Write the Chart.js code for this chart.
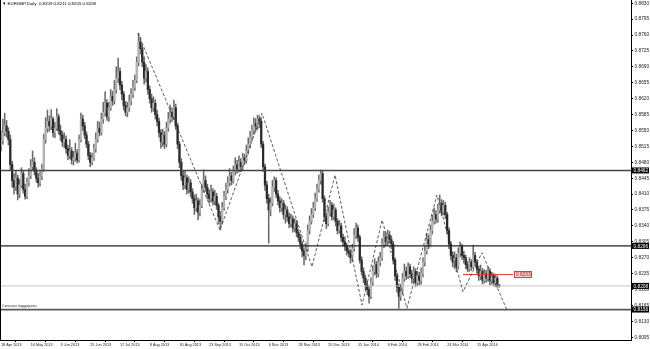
<!DOCTYPE html>
<html>
<head>
<meta charset="utf-8">
<title>EURGBP,Daily</title>
<script src="https://cdn.jsdelivr.net/npm/chart.js@4.4.1/dist/chart.umd.min.js"></script>
<style>
  html, body { margin: 0; padding: 0; background: #fff; }
  canvas { display: block; }
</style>
</head>
<body>
<canvas id="chart" width="650" height="349"></canvas>
<script>
// EURGBP daily candles, 18 Apr 2013 .. early May 2014
const opens = [
  0.8515,0.8528,0.8545,0.8560,0.8548,0.8530,0.8475,0.8440,0.8425,0.8445,
  0.8410,0.8430,0.8455,0.8420,0.8405,0.8435,0.8450,0.8470,0.8480,0.8460,
  0.8445,0.8435,0.8450,0.8465,0.8530,0.8555,0.8570,0.8560,0.8575,0.8545,
  0.8555,0.8580,0.8550,0.8540,0.8525,0.8530,0.8510,0.8495,0.8505,0.8485,
  0.8490,0.8500,0.8485,0.8530,0.8575,0.8560,0.8540,0.8520,0.8495,0.8480,
  0.8490,0.8510,0.8530,0.8555,0.8545,0.8575,0.8590,0.8610,0.8580,0.8600,
  0.8625,0.8615,0.8640,0.8665,0.8680,0.8650,0.8630,0.8605,0.8590,0.8600,
  0.8615,0.8630,0.8645,0.8660,0.8700,0.8745,0.8730,0.8700,0.8665,0.8680,
  0.8640,0.8620,0.8600,0.8610,0.8585,0.8570,0.8545,0.8525,0.8540,0.8520,
  0.8555,0.8575,0.8590,0.8580,0.8600,0.8560,0.8520,0.8480,0.8450,0.8430,
  0.8445,0.8420,0.8435,0.8415,0.8400,0.8380,0.8395,0.8370,0.8385,0.8420,
  0.8440,0.8425,0.8410,0.8400,0.8415,0.8395,0.8405,0.8385,0.8360,0.8350,
  0.8380,0.8405,0.8420,0.8435,0.8450,0.8440,0.8460,0.8475,0.8465,0.8480,
  0.8470,0.8490,0.8485,0.8505,0.8520,0.8535,0.8550,0.8565,0.8560,0.8575,
  0.8570,0.8520,0.8470,0.8430,0.8400,0.8375,0.8390,0.8425,0.8440,0.8410,
  0.8395,0.8380,0.8390,0.8365,0.8375,0.8360,0.8345,0.8355,0.8335,0.8345,
  0.8325,0.8315,0.8300,0.8285,0.8275,0.8290,0.8330,0.8350,0.8365,0.8380,
  0.8400,0.8420,0.8440,0.8455,0.8400,0.8360,0.8345,0.8370,0.8385,0.8360,
  0.8375,0.8350,0.8330,0.8340,0.8315,0.8305,0.8295,0.8285,0.8280,0.8270,
  0.8290,0.8320,0.8335,0.8315,0.8265,0.8240,0.8225,0.8210,0.8200,0.8185,
  0.8215,0.8240,0.8255,0.8235,0.8260,0.8270,0.8300,0.8315,0.8305,0.8320,
  0.8310,0.8300,0.8265,0.8230,0.8205,0.8185,0.8195,0.8225,0.8240,0.8230,
  0.8250,0.8235,0.8225,0.8240,0.8215,0.8230,0.8220,0.8235,0.8260,0.8285,
  0.8310,0.8300,0.8330,0.8350,0.8365,0.8355,0.8375,0.8390,0.8370,0.8385,
  0.8365,0.8330,0.8300,0.8275,0.8260,0.8270,0.8250,0.8280,0.8295,0.8275,
  0.8270,0.8255,0.8245,0.8260,0.8250,0.8275,0.8260,0.8245,0.8230,0.8240,
  0.8220,0.8235,0.8225,0.8240,0.8220,0.8230,0.8215,0.8225,0.8209
];
const highs = [
  0.8548,0.8575,0.8588,0.8572,0.8556,0.8540,0.8482,0.8455,0.8462,0.8452,
  0.8442,0.8468,0.8460,0.8432,0.8446,0.8466,0.8486,0.8505,0.8490,0.8468,
  0.8455,0.8460,0.8476,0.8542,0.8578,0.8595,0.8582,0.8596,0.8580,0.8568,
  0.8598,0.8586,0.8562,0.8548,0.8545,0.8538,0.8518,0.8530,0.8512,0.8504,
  0.8522,0.8508,0.8540,0.8588,0.8584,0.8568,0.8547,0.8526,0.8502,0.8500,
  0.8520,0.8545,0.8570,0.8568,0.8588,0.8612,0.8635,0.8618,0.8612,0.8640,
  0.8636,0.8660,0.8690,0.8709,0.8688,0.8658,0.8636,0.8614,0.8612,0.8628,
  0.8642,0.8660,0.8672,0.8712,0.8764,0.8755,0.8738,0.8712,0.8695,0.8688,
  0.8648,0.8630,0.8624,0.8618,0.8594,0.8577,0.8552,0.8553,0.8548,0.8568,
  0.8590,0.8606,0.8600,0.8617,0.8608,0.8566,0.8526,0.8488,0.8460,0.8460,
  0.8452,0.8448,0.8442,0.8422,0.8408,0.8410,0.8402,0.8398,0.8432,0.8463,
  0.8450,0.8432,0.8420,0.8430,0.8422,0.8418,0.8412,0.8390,0.8372,0.8392,
  0.8416,0.8434,0.8448,0.8466,0.8458,0.8472,0.8490,0.8484,0.8494,0.8488,
  0.8500,0.8498,0.8518,0.8534,0.8548,0.8562,0.8578,0.8576,0.8584,0.8582,
  0.8578,0.8526,0.8476,0.8438,0.8410,0.8402,0.8440,0.8448,0.8446,0.8418,
  0.8404,0.8400,0.8396,0.8386,0.8382,0.8368,0.8366,0.8362,0.8356,0.8352,
  0.8332,0.8322,0.8306,0.8292,0.8302,0.8342,0.8362,0.8378,0.8392,0.8412,
  0.8432,0.8452,0.8463,0.8460,0.8406,0.8368,0.8382,0.8396,0.8392,0.8388,
  0.8380,0.8356,0.8352,0.8346,0.8322,0.8316,0.8302,0.8292,0.8288,0.8300,
  0.8334,0.8346,0.8342,0.8320,0.8272,0.8248,0.8232,0.8218,0.8208,0.8226,
  0.8252,0.8268,0.8262,0.8272,0.8282,0.8312,0.8328,0.8324,0.8331,0.8328,
  0.8318,0.8306,0.8270,0.8236,0.8212,0.8208,0.8236,0.8256,0.8250,0.8259,
  0.8256,0.8242,0.8250,0.8246,0.8240,0.8238,0.8248,0.8270,0.8296,0.8324,
  0.8320,0.8342,0.8364,0.8380,0.8374,0.8388,0.8408,0.8398,0.8396,0.8392,
  0.8370,0.8336,0.8306,0.8282,0.8283,0.8278,0.8292,0.8305,0.8300,0.8284,
  0.8276,0.8262,0.8270,0.8266,0.8298,0.8282,0.8266,0.8252,0.8254,0.8246,
  0.8244,0.8242,0.8250,0.8246,0.8238,0.8236,0.8232,0.8230,0.8211
];
const lows = [
  0.8505,0.8520,0.8538,0.8535,0.8518,0.8462,0.8425,0.8410,0.8418,0.8397,
  0.8402,0.8424,0.8412,0.8399,0.8400,0.8428,0.8444,0.8462,0.8452,0.8436,
  0.8425,0.8428,0.8442,0.8460,0.8522,0.8546,0.8548,0.8552,0.8536,0.8534,
  0.8550,0.8542,0.8528,0.8515,0.8512,0.8500,0.8486,0.8488,0.8476,0.8474,
  0.8482,0.8478,0.8480,0.8525,0.8550,0.8532,0.8512,0.8486,0.8470,0.8474,
  0.8484,0.8502,0.8524,0.8538,0.8540,0.8566,0.8582,0.8572,0.8570,0.8594,
  0.8605,0.8608,0.8632,0.8655,0.8640,0.8618,0.8595,0.8582,0.8580,0.8592,
  0.8606,0.8622,0.8638,0.8655,0.8692,0.8718,0.8690,0.8652,0.8656,0.8630,
  0.8610,0.8590,0.8592,0.8575,0.8560,0.8535,0.8511,0.8515,0.8510,0.8514,
  0.8548,0.8566,0.8570,0.8574,0.8552,0.8510,0.8468,0.8440,0.8420,0.8422,
  0.8410,0.8412,0.8404,0.8390,0.8365,0.8372,0.8353,0.8362,0.8380,0.8414,
  0.8416,0.8400,0.8390,0.8392,0.8386,0.8386,0.8376,0.8345,0.8331,0.8344,
  0.8374,0.8398,0.8412,0.8428,0.8430,0.8434,0.8452,0.8456,0.8458,0.8460,
  0.8464,0.8475,0.8478,0.8498,0.8512,0.8528,0.8542,0.8548,0.8552,0.8556,
  0.8512,0.8460,0.8418,0.8390,0.8302,0.8362,0.8384,0.8416,0.8402,0.8386,
  0.8370,0.8372,0.8355,0.8346,0.8350,0.8336,0.8338,0.8326,0.8328,0.8316,
  0.8306,0.8290,0.8272,0.8254,0.8266,0.8284,0.8322,0.8344,0.8358,0.8374,
  0.8394,0.8414,0.8432,0.8392,0.8350,0.8334,0.8340,0.8362,0.8352,0.8354,
  0.8340,0.8322,0.8324,0.8306,0.8296,0.8286,0.8276,0.8272,0.8258,0.8262,
  0.8284,0.8312,0.8306,0.8258,0.8232,0.8215,0.8200,0.8188,0.8170,0.8180,
  0.8208,0.8232,0.8226,0.8228,0.8252,0.8264,0.8292,0.8296,0.8298,0.8302,
  0.8290,0.8256,0.8220,0.8194,0.8159,0.8176,0.8190,0.8218,0.8222,0.8224,
  0.8226,0.8214,0.8216,0.8206,0.8208,0.8210,0.8212,0.8228,0.8252,0.8278,
  0.8290,0.8294,0.8322,0.8344,0.8346,0.8348,0.8368,0.8362,0.8364,0.8356,
  0.8322,0.8290,0.8266,0.8250,0.8246,0.8239,0.8245,0.8272,0.8266,0.8258,
  0.8246,0.8239,0.8240,0.8242,0.8246,0.8252,0.8236,0.8220,0.8222,0.8212,
  0.8214,0.8216,0.8218,0.8210,0.8212,0.8208,0.8206,0.8205,0.8205
];
const closes = [
  0.8528,0.8545,0.8560,0.8548,0.8530,0.8475,0.8440,0.8425,0.8445,0.8410,
  0.8430,0.8455,0.8420,0.8405,0.8435,0.8450,0.8470,0.8480,0.8460,0.8445,
  0.8435,0.8450,0.8465,0.8530,0.8555,0.8570,0.8560,0.8575,0.8545,0.8555,
  0.8580,0.8550,0.8540,0.8525,0.8530,0.8510,0.8495,0.8505,0.8485,0.8490,
  0.8500,0.8485,0.8530,0.8575,0.8560,0.8540,0.8520,0.8495,0.8480,0.8490,
  0.8510,0.8530,0.8555,0.8545,0.8575,0.8590,0.8610,0.8580,0.8600,0.8625,
  0.8615,0.8640,0.8665,0.8680,0.8650,0.8630,0.8605,0.8590,0.8600,0.8615,
  0.8630,0.8645,0.8660,0.8700,0.8745,0.8730,0.8700,0.8665,0.8680,0.8640,
  0.8620,0.8600,0.8610,0.8585,0.8570,0.8545,0.8525,0.8540,0.8520,0.8555,
  0.8575,0.8590,0.8580,0.8600,0.8560,0.8520,0.8480,0.8450,0.8430,0.8445,
  0.8420,0.8435,0.8415,0.8400,0.8380,0.8395,0.8370,0.8385,0.8420,0.8440,
  0.8425,0.8410,0.8400,0.8415,0.8395,0.8405,0.8385,0.8360,0.8350,0.8380,
  0.8405,0.8420,0.8435,0.8450,0.8440,0.8460,0.8475,0.8465,0.8480,0.8470,
  0.8490,0.8485,0.8505,0.8520,0.8535,0.8550,0.8565,0.8560,0.8575,0.8570,
  0.8520,0.8470,0.8430,0.8400,0.8375,0.8390,0.8425,0.8440,0.8410,0.8395,
  0.8380,0.8390,0.8365,0.8375,0.8360,0.8345,0.8355,0.8335,0.8345,0.8325,
  0.8315,0.8300,0.8285,0.8275,0.8290,0.8330,0.8350,0.8365,0.8380,0.8400,
  0.8420,0.8440,0.8455,0.8400,0.8360,0.8345,0.8370,0.8385,0.8360,0.8375,
  0.8350,0.8330,0.8340,0.8315,0.8305,0.8295,0.8285,0.8280,0.8270,0.8290,
  0.8320,0.8335,0.8315,0.8265,0.8240,0.8225,0.8210,0.8200,0.8185,0.8215,
  0.8240,0.8255,0.8235,0.8260,0.8270,0.8300,0.8315,0.8305,0.8320,0.8310,
  0.8300,0.8265,0.8230,0.8205,0.8185,0.8195,0.8225,0.8240,0.8230,0.8250,
  0.8235,0.8225,0.8240,0.8215,0.8230,0.8220,0.8235,0.8260,0.8285,0.8310,
  0.8300,0.8330,0.8350,0.8365,0.8355,0.8375,0.8390,0.8370,0.8385,0.8365,
  0.8330,0.8300,0.8275,0.8260,0.8270,0.8250,0.8280,0.8295,0.8275,0.8270,
  0.8255,0.8245,0.8260,0.8250,0.8275,0.8260,0.8245,0.8230,0.8240,0.8220,
  0.8235,0.8225,0.8240,0.8220,0.8230,0.8215,0.8225,0.8212,0.8208
];

// bottom axis: a date label every 16 bars
const dateTicks = [0, 16, 32, 48, 64, 80, 96, 112, 128, 144, 160, 176, 192, 208, 224, 240, 256];
const dateLabels = ["18 Apr 2013", "10 May 2013", "3 Jun 2013", "25 Jun 2013", "17 Jul 2013",
  "8 Aug 2013", "30 Aug 2013", "23 Sep 2013", "15 Oct 2013", "6 Nov 2013", "28 Nov 2013",
  "20 Dec 2013", "15 Jan 2014", "6 Feb 2014", "28 Feb 2014", "24 Mar 2014", "15 Apr 2014"];

// right axis price labels
const priceTicks = [0.8830, 0.8795, 0.8760, 0.8725, 0.8690, 0.8655, 0.8620, 0.8585, 0.8550,
  0.8515, 0.8480, 0.8445, 0.8410, 0.8375, 0.8340, 0.8305, 0.8270, 0.8235, 0.8200, 0.8165,
  0.8130, 0.8095];

// horizontal levels: resistance, middle level, bid line, strong support
const levels = [0.8462, 0.8296, 0.8208, 0.8156];
const supportText = "Сильная поддержка";

// hand drawn dashed wave (bar position, price)
const waveX = [73.7, 117.8, 140.4, 167.3, 179.7, 194.2, 205.0, 218.4, 234.5, 248.5, 258.7, 272.2];
const waveY = [0.8764, 0.8331, 0.8588, 0.8250, 0.8452, 0.8166, 0.8353, 0.8159, 0.8408, 0.8195, 0.8281, 0.8155];

// short red level with price tag
const redLevel = 0.8233;
const redFrom = 248.5, redTo = 275.4;

const symbol = "EURGBP,Daily";
const FONT = '"Liberation Sans", Arial, sans-serif';
Chart.defaults.font.family = FONT;

const X_MIN = -0.54, X_MAX = 338.9;
const bars = closes.map((c, i) => i);
const up = i => closes[i] >= opens[i];

const hline = (v, color, width) => ({
  type: 'line',
  data: [{x: X_MIN, y: v}, {x: X_MAX, y: v}],
  borderColor: color, borderWidth: width,
  pointRadius: 0, fill: false, order: 1
});

const datasets = [
  {
    type: 'bar', grouped: false, order: 3,
    data: bars.map(i => ({x: i, y: [lows[i], highs[i]]})),
    backgroundColor: '#6a6a6a', barThickness: 0.9, borderWidth: 0
  },
  {
    type: 'bar', grouped: false, order: 2,
    data: bars.map(i => ({x: i, y: [opens[i], closes[i]]})),
    backgroundColor: ctx => up(ctx.dataIndex) ? '#b4b4b4' : '#2a2a2a',
    barThickness: 1.6, borderWidth: 0, minBarLength: 1
  },
  hline(levels[0], '#444', 1.6),
  hline(levels[1], '#222', 1.4),
  hline(levels[2], '#c8c8c8', 1),
  hline(levels[3], '#5a5a5a', 1.8),
  {
    type: 'line', order: 0,
    data: waveX.map((x, k) => ({x: x, y: waveY[k]})),
    borderColor: '#333', borderWidth: 0.8, borderDash: [3, 2],
    pointRadius: 0, fill: false, tension: 0
  },
  {
    type: 'line', order: 0,
    data: [{x: redFrom, y: redLevel}, {x: redTo, y: redLevel}],
    borderColor: '#d23c3c', borderWidth: 1, pointRadius: 0, fill: false
  }
];

const overlay = {
  id: 'overlay',
  afterDraw(chart) {
    const {ctx, chartArea: a} = chart;
    const x = chart.scales.x, y = chart.scales.y;
    ctx.save();
    ctx.strokeStyle = '#000';
    ctx.lineWidth = 1;
    ctx.beginPath();
    ctx.moveTo(a.left + 0.5, a.top);
    ctx.lineTo(a.left + 0.5, a.bottom);
    ctx.stroke();

    const n = closes.length - 1;
    ctx.font = '4.4px ' + FONT;
    ctx.textBaseline = 'middle';
    ctx.fillStyle = '#000';
    ctx.fillText('\u25BC ' + symbol + '  ' + [opens[n], highs[n], lows[n], closes[n]].map(v => v.toFixed(4)).join(' '), 2, 4);

    ctx.font = '3.7px ' + FONT;
    ctx.fillStyle = '#333';
    ctx.fillText(supportText, 2, y.getPixelForValue(levels[3]) - 3.5);

    ctx.font = '4.8px ' + FONT;
    levels.forEach(v => {
      const py = y.getPixelForValue(v);
      ctx.fillStyle = '#000';
      ctx.fillRect(a.right + 1, py - 3, 17, 6);
      ctx.fillStyle = '#fff';
      ctx.fillText(v.toFixed(4), a.right + 2.5, py + 0.3);
    });

    const rx = x.getPixelForValue(redTo) + 1, ry = y.getPixelForValue(redLevel);
    ctx.fillStyle = '#f6d2d2';
    ctx.fillRect(rx, ry - 3.5, 18, 7);
    ctx.strokeStyle = '#d23c3c';
    ctx.lineWidth = 1;
    ctx.strokeRect(rx + 0.5, ry - 3, 17, 6);
    ctx.fillStyle = '#b02020';
    ctx.fillText(redLevel.toFixed(4), rx + 2, ry + 0.3);
    ctx.restore();
  }
};

new Chart(document.getElementById('chart'), {
  type: 'bar',
  data: {datasets: datasets},
  plugins: [overlay],
  options: {
    responsive: false,
    animation: false,
    events: [],
    layout: {padding: 0},
    plugins: {legend: {display: false}, tooltip: {enabled: false}},
    scales: {
      x: {
        type: 'linear', min: X_MIN, max: X_MAX, offset: false,
        afterBuildTicks: s => { s.ticks = dateTicks.map(v => ({value: v})); },
        afterFit: s => { s.height = 9; s.paddingLeft = 0; s.paddingRight = 0; },
        ticks: {
          autoSkip: false, maxRotation: 0, align: 'start', padding: 1,
          color: '#222', font: {size: 3.8},
          callback: (v, k) => dateLabels[k]
        },
        grid: {drawOnChartArea: false, tickLength: 2, color: '#000'},
        border: {color: '#000', width: 1}
      },
      y: {
        position: 'right', min: 0.8089, max: 0.8837,
        afterBuildTicks: s => { s.ticks = priceTicks.map(v => ({value: v})); },
        afterFit: s => { s.width = 19; s.paddingTop = 0; s.paddingBottom = 0; },
        ticks: {
          autoSkip: false, padding: 1.5, color: '#222', font: {size: 4.8},
          callback: v => v.toFixed(4)
        },
        grid: {drawOnChartArea: false, tickLength: 2, color: '#000'},
        border: {color: '#000', width: 1}
      }
    }
  }
});
</script>
</body>
</html>
